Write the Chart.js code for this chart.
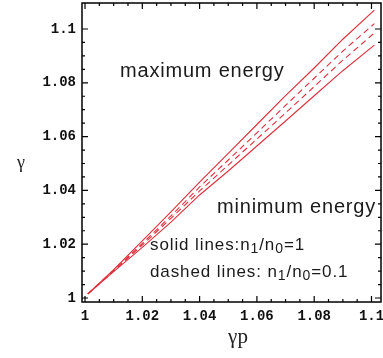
<!DOCTYPE html>
<html>
<head>
<meta charset="utf-8">
<script src="https://cdn.jsdelivr.net/npm/chart.js@4/dist/chart.umd.min.js"></script>
<style>
  html, body { margin: 0; padding: 0; background: #fff; }
  #wrap { width: 383px; height: 358px; }
</style>
</head>
<body>
<div id="wrap"><canvas id="c" width="383" height="358"></canvas></div>
<script>
const gammaP = [1.001, 1.01, 1.02, 1.03, 1.04, 1.05, 1.06, 1.07, 1.08, 1.09, 1.101];
// solid lines: n1/n0 = 1
const solidUpper = [1.0015, 1.0105, 1.0212, 1.032, 1.0431, 1.0538, 1.0645, 1.0752, 1.0855, 1.0962, 1.107];
const solidLower = [1.0015, 1.0098, 1.0188, 1.0282, 1.0383, 1.0472, 1.0565, 1.0658, 1.0752, 1.0845, 1.094];
// dashed lines: n1/n0 = 0.1
const dashUpper = [1.0015, 1.0102, 1.0203, 1.0305, 1.0413, 1.0513, 1.0614, 1.0716, 1.0817, 1.0918, 1.102];
const dashLower = [1.0015, 1.0100, 1.0197, 1.0296, 1.0398, 1.0494, 1.0591, 1.0688, 1.0786, 1.0884, 1.0985];

const xTicks = [1, 1.02, 1.04, 1.06, 1.08, 1.1];
const xTickLabels = ['1', '1.02', '1.04', '1.06', '1.08', '1.1'];
const yTicks = [1, 1.02, 1.04, 1.06, 1.08, 1.1];
const yTickLabels = ['1', '1.02', '1.04', '1.06', '1.08', '1.1'];

const red = 'rgb(222,48,62)';

function pts(ys) {
  return gammaP.map((x, i) => ({ x: x, y: ys[i] }));
}

function makeSet(ys, dashed) {
  return {
    data: pts(ys),
    showLine: true,
    borderColor: red,
    borderWidth: 1.1,
    borderDash: dashed ? [6, 4] : [],
    pointRadius: 0,
    tension: 0,
    fill: false
  };
}

// frame, inward ticks, labels and annotations (Mathematica style)
const framePlugin = {
  id: 'frame',
  afterDraw(chart) {
    const ctx = chart.ctx;
    const a = chart.chartArea;
    const xs = chart.scales.x, ys = chart.scales.y;
    ctx.save();
    ctx.strokeStyle = '#000';
    ctx.lineWidth = 1.5;
    ctx.strokeRect(a.left, a.top, a.right - a.left, a.bottom - a.top);

    ctx.lineWidth = 1.2;
    ctx.beginPath();
    for (let i = 0; i <= 20; i++) {
      const v = 1 + i * 0.005;
      const len = i % 4 === 0 ? 6 : 3;
      const px = xs.getPixelForValue(v);
      ctx.moveTo(px, a.bottom); ctx.lineTo(px, a.bottom - len);
      ctx.moveTo(px, a.top); ctx.lineTo(px, a.top + len);
      const py = ys.getPixelForValue(v);
      if (py >= a.top) {
        ctx.moveTo(a.left, py); ctx.lineTo(a.left + len, py);
        ctx.moveTo(a.right, py); ctx.lineTo(a.right - len, py);
      }
    }
    ctx.stroke();

    // axis titles
    ctx.fillStyle = '#222';
    ctx.textBaseline = 'alphabetic';
    ctx.textAlign = 'center';
    ctx.font = '18px "Liberation Serif"';
    ctx.fillText('γ', 21, 168);
    ctx.font = '21px "Liberation Serif"';
    ctx.fillText('γp', 238, 343);

    // annotations
    ctx.textAlign = 'left';
    ctx.fillStyle = '#1a1a1a';
    ctx.font = '20px "Liberation Sans"';
    ctx.letterSpacing = '0.8px';
    ctx.fillText('maximum energy', 120, 77);
    ctx.fillText('minimum energy', 217, 213);

    function ratio(prefix, val, x, y) {
      ctx.letterSpacing = '0.9px';
      let cx = x;
      const parts = [[prefix + 'n', false], ['1', true], ['/n', false], ['0', true], ['=' + val, false]];
      parts.forEach(p => {
        ctx.font = p[1] ? '14px "Liberation Sans"' : '17px "Liberation Sans"';
        ctx.fillText(p[0], cx, p[1] ? y + 3 : y);
        cx += ctx.measureText(p[0]).width;
      });
    }
    ratio('solid lines:', '1', 150, 250);
    ratio('dashed lines: ', '0.1', 150, 277);
    ctx.restore();
  }
};

new Chart(document.getElementById('c'), {
  type: 'scatter',
  data: {
    datasets: [
      makeSet(solidUpper, false),
      makeSet(solidLower, false),
      makeSet(dashUpper, true),
      makeSet(dashLower, true)
    ]
  },
  options: {
    responsive: false,
    animation: false,
    layout: { padding: { top: 3, right: 2, left: 0, bottom: 0 } },
    plugins: { legend: { display: false }, tooltip: { enabled: false } },
    scales: {
      x: {
        type: 'linear',
        min: 0.99895,
        max: 1.10332,
        afterFit: s => { s.height = 56; s.paddingLeft = 0; s.paddingRight = 0; },
        afterBuildTicks: s => { s.ticks = xTicks.map(v => ({ value: v })); },
        grid: { display: false, drawTicks: false },
        border: { display: false },
        ticks: {
          padding: 6,
          color: '#111',
          font: { family: '"Liberation Mono"', size: 14, weight: 'bold' },
          callback: (v) => xTickLabels[xTicks.indexOf(v)],
          maxRotation: 0,
          autoSkip: false
        }
      },
      y: {
        type: 'linear',
        min: 0.99851,
        max: 1.10967,
        afterFit: s => { s.width = 82; s.paddingTop = 0; s.paddingBottom = 0; },
        afterBuildTicks: s => { s.ticks = yTicks.map(v => ({ value: v })); },
        grid: { display: false, drawTicks: false },
        border: { display: false },
        ticks: {
          padding: 6,
          color: '#111',
          font: { family: '"Liberation Mono"', size: 14, weight: 'bold' },
          callback: (v) => yTickLabels[yTicks.indexOf(v)],
          autoSkip: false
        }
      }
    }
  },
  plugins: [framePlugin]
});
</script>
</body>
</html>
